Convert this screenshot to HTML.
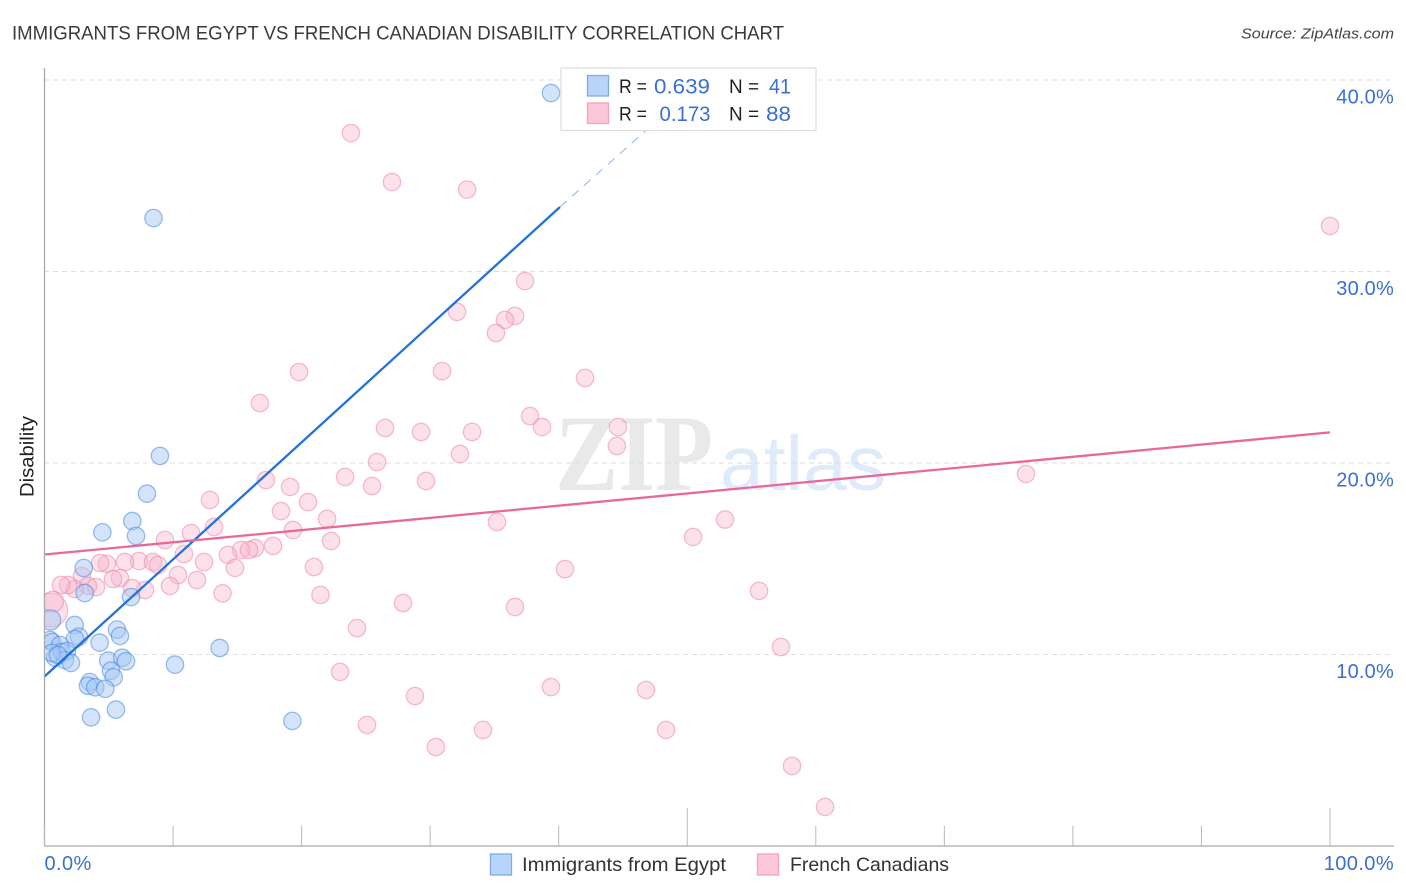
<!DOCTYPE html>
<html lang="en">
<head>
<meta charset="utf-8">
<title>Immigrants from Egypt vs French Canadian Disability Correlation Chart</title>
<style>
html,body{margin:0;padding:0;background:#fff;}
svg{display:block;font-family:"Liberation Sans",sans-serif;}
</style>
</head>
<body>
<svg id="chart" xmlns="http://www.w3.org/2000/svg" width="1406" height="892" viewBox="0 0 1406 892">
  <defs>
    <clipPath id="plot-clip"><rect x="45" y="60" width="1349" height="786"></rect></clipPath>
  </defs>
  <rect x="0" y="0" width="1406" height="892" fill="#ffffff"></rect>
  <text x="12" y="39.5" font-size="19.5" fill="#3a3a3a" textLength="772" lengthAdjust="spacingAndGlyphs">IMMIGRANTS FROM EGYPT VS FRENCH CANADIAN DISABILITY CORRELATION CHART</text>
  <text x="1241" y="38.5" font-size="15" font-style="italic" fill="#444444" textLength="153" lengthAdjust="spacingAndGlyphs">Source: ZipAtlas.com</text>
  <text x="555" y="490" font-family="'Liberation Serif',serif" font-weight="700" font-size="109" fill="#e9e9e9" textLength="158" lengthAdjust="spacingAndGlyphs">ZIP</text>
  <text x="720" y="490" font-size="77" fill="#dfeafa" textLength="166" lengthAdjust="spacingAndGlyphs">atlas</text>
  <g id="grid"></g>
  <g id="points" clip-path="url(#plot-clip)"></g>
  <g id="trends"></g>
  <g id="axes"></g>
  <text transform="translate(33.5,456.5) rotate(-90)" text-anchor="middle" font-size="19.5" fill="#222222" textLength="81" lengthAdjust="spacingAndGlyphs">Disability</text>

  <g>
    <rect x="561" y="68" width="255" height="62.5" fill="#ffffff" fill-opacity="0.9" stroke="#dddddd" stroke-width="1.2"></rect>
    <rect x="587.5" y="75.5" width="21" height="20.5" fill="#b8d4f8" stroke="#7fabe6" stroke-width="1.3"></rect>
    <rect x="587.5" y="103" width="21" height="20.5" fill="#fcc8d9" stroke="#f2a3bd" stroke-width="1.3"></rect>
    <text x="619" y="93" font-size="19.5" fill="#222222" textLength="28" lengthAdjust="spacingAndGlyphs">R =</text>
    <text x="654" y="93.5" font-size="21" fill="#3b70d0" textLength="56" lengthAdjust="spacingAndGlyphs">0.639</text>
    <text x="729" y="93" font-size="19.5" fill="#222222" textLength="30" lengthAdjust="spacingAndGlyphs">N =</text>
    <text x="769" y="93.5" font-size="21" fill="#3b70d0" textLength="22" lengthAdjust="spacingAndGlyphs">41</text>
    <text x="619" y="120.5" font-size="19.5" fill="#222222" textLength="28" lengthAdjust="spacingAndGlyphs">R =</text>
    <text x="659.5" y="121" font-size="21" fill="#3b70d0" textLength="51" lengthAdjust="spacingAndGlyphs">0.173</text>
    <text x="729" y="120.5" font-size="19.5" fill="#222222" textLength="30" lengthAdjust="spacingAndGlyphs">N =</text>
    <text x="766" y="121" font-size="21" fill="#3b70d0" textLength="25" lengthAdjust="spacingAndGlyphs">88</text>
  </g>

  <g>
    <g>
      <rect x="490.5" y="854" width="21" height="21" fill="#b8d4f8" stroke="#7fabe6" stroke-width="1.3"></rect>
      <text x="522" y="871" font-size="19.5" fill="#333333" textLength="204" lengthAdjust="spacingAndGlyphs">Immigrants from Egypt</text>
    </g>
    <g>
      <rect x="757.5" y="854" width="21" height="21" fill="#fcc8d9" stroke="#f2a3bd" stroke-width="1.3"></rect>
      <text x="790" y="871" font-size="19.5" fill="#333333" textLength="159" lengthAdjust="spacingAndGlyphs">French Canadians</text>
    </g>
  </g>
</svg>
<script>
// Axis tick data
const yTickValues = [10, 20, 30, 40];
const yTickLabels = ["10.0%", "20.0%", "30.0%", "40.0%"];
const xTickValues = [0, 10, 20, 30, 40, 50, 60, 70, 80, 90, 100];
const xMajorTicks = [50, 100];
const xEndValues = [0, 100];
const xEndLabels = ["0.0%", "100.0%"];

// Immigrants from Egypt (percent values)
const egyptX = [39.40, 8.48, 8.98, 7.97, 6.83, 4.50, 7.12, 3.05, 3.13, 6.73, 2.35, 5.64, 5.87, 2.68, 2.37, 4.29, 13.63, 0.43, 0.58, 1.21, 0.82, 1.36, 1.75, 1.59, 2.06, 0.58, 4.96, 6.05, 6.34, 10.15, 5.17, 5.38, 3.52, 3.38, 3.95, 4.73, 3.62, 5.56, 19.28, 1.05];
const egyptY = [39.32, 32.79, 20.37, 18.40, 16.97, 16.38, 16.19, 14.52, 13.21, 13.00, 11.54, 11.30, 10.97, 10.93, 10.81, 10.62, 10.34, 10.76, 10.65, 10.50, 9.84, 10.13, 10.18, 9.71, 9.56, 10.08, 9.68, 9.83, 9.65, 9.47, 9.15, 8.81, 8.56, 8.37, 8.29, 8.21, 6.72, 7.12, 6.53, 9.97];

// French Canadians (percent values)
const frenchX = [23.84, 27.03, 32.87, 100, 37.38, 32.09, 36.60, 35.82, 35.12, 42.05, 30.92, 19.80, 16.76, 37.77, 38.70, 26.49, 29.29, 33.26, 44.61, 44.53, 32.32, 25.87, 23.38, 29.68, 25.48, 17.23, 19.10, 12.87, 20.50, 18.40, 76.35, 21.98, 35.20, 52.94, 13.19, 19.33, 11.40, 9.37, 22.29, 50.45, 17.78, 16.37, 15.29, 15.91, 14.27, 10.85, 12.41, 14.82, 20.96, 40.49, 7.35, 6.26, 4.86, 4.32, 8.44, 8.83, 5.87, 5.33, 10.39, 11.86, 9.76, 7.82, 6.81, 2.92, 4.01, 3.38, 2.37, 1.83, 1.28, 13.85, 21.47, 55.58, 27.89, 36.60, 24.31, 57.29, 22.99, 39.40, 46.79, 28.82, 25.09, 48.35, 34.11, 30.45, 58.15, 60.72];
const frenchY = [37.23, 34.67, 34.28, 32.38, 29.50, 27.89, 27.68, 27.47, 26.79, 24.44, 24.80, 24.75, 23.13, 22.45, 21.88, 21.83, 21.62, 21.62, 21.88, 20.89, 20.47, 20.05, 19.27, 19.06, 18.80, 19.11, 18.75, 18.07, 17.96, 17.49, 19.43, 17.08, 16.92, 17.05, 16.66, 16.50, 16.34, 15.98, 15.93, 16.14, 15.67, 15.56, 15.46, 15.46, 15.20, 15.25, 14.83, 14.52, 14.57, 14.46, 14.88, 14.83, 14.73, 14.78, 14.83, 14.67, 13.99, 13.94, 14.15, 13.89, 13.58, 13.37, 13.47, 14.10, 13.52, 13.58, 13.42, 13.63, 13.63, 13.19, 13.11, 13.32, 12.69, 12.48, 11.38, 10.39, 9.09, 8.30, 8.15, 7.83, 6.32, 6.06, 6.06, 5.17, 4.18, 2.04];

// Heavier-weighted observations near the left edge
const frenchHeavyX = [0.48, 0.66];
const frenchHeavyY = [12.32, 12.76];
const frenchHeavyWeight = [1.95, 1.2];
const egyptHeavyX = [0.48];
const egyptHeavyY = [11.80];
const egyptHeavyWeight = [1.15];

// Trend lines: endpoints in data units
const egyptTrendX = [0, 40.1];
const egyptTrendY = [8.85, 33.37];
const egyptDashX = [40.1, 49.7];
const egyptDashY = [33.37, 39.1];
const frenchTrendX = [0, 100];
const frenchTrendY = [15.22, 21.6];

const X0 = 44.5, X_PER = 12.855, Y0 = 846, Y_PER = 19.15, BASE_R = 8.7;
function xScale(v) { return X0 + v * X_PER; }
function yScale(v) { return Y0 - v * Y_PER; }

const NS = "http://www.w3.org/2000/svg";
function make(tag, attrs, parent, text) {
  const el = document.createElementNS(NS, tag);
  for (const k in attrs) el.setAttribute(k, attrs[k]);
  if (text !== undefined) el.textContent = text;
  parent.appendChild(el);
  return el;
}

const gridG = document.getElementById("grid");
const axesG = document.getElementById("axes");
const pointsG = document.getElementById("points");
const trendsG = document.getElementById("trends");

yTickValues.forEach(function (v, i) {
  const line = make("line", { x1: 44, x2: 1394, y1: yScale(v), y2: yScale(v), stroke: "#dedede", "stroke-width": 1, "stroke-dasharray": "5 4" }, gridG);
  
  
  const label = make("text", { x: 1394, y: yScale(v) + 23.5, "text-anchor": "end", "font-size": 20, "letter-spacing": 0.2, fill: "#3b70d0" }, axesG, yTickLabels[i]);
  
  
});

const yAxis = make("line", { x1: 44.5, x2: 44.5, y1: 68, y2: 846, stroke: "#aaaaaa", "stroke-width": 1.3 }, axesG);


const xAxis = make("line", { x1: 44, x2: 1394, y1: 846, y2: 846, stroke: "#aaaaaa", "stroke-width": 1.3 }, axesG);



xTickValues.forEach(function (v) {
  const top = xMajorTicks.indexOf(v) >= 0 ? 808 : 826;
  const tick = make("line", { x1: xScale(v), x2: xScale(v), y1: top, y2: 846, stroke: "#b8b8b8", "stroke-width": 1 }, axesG);
  
  
});

xEndValues.forEach(function (v, i) {
  const anchor = v === 0 ? "start" : "end";
  const x = v === 0 ? xScale(v) : 1394;
  const label = make("text", { x: x, y: 870, "text-anchor": anchor, "font-size": 20, "letter-spacing": 0.4, fill: "#3b70d0" }, axesG, xEndLabels[i]);
  
  
});

const frenchStyle = { fill: "#f9b4cc", "fill-opacity": 0.42, stroke: "#ec7fa5", "stroke-opacity": 0.5, "stroke-width": 1.3 };
const egyptStyle = { fill: "#a3c6f5", "fill-opacity": 0.48, stroke: "#3f7fdc", "stroke-opacity": 0.5, "stroke-width": 1.3 };

function dot(x, y, weight, style, parent) {
  const attrs = { cx: xScale(x), cy: yScale(y), r: BASE_R * weight };
  for (const k in style) attrs[k] = style[k];
  return make("circle", attrs, parent);
}

frenchHeavyX.forEach(function (x, i) {
  const c = dot(x, frenchHeavyY[i], frenchHeavyWeight[i], frenchStyle, pointsG);
  
  
});
frenchX.forEach(function (x, i) {
  const c = dot(x, frenchY[i], 1, frenchStyle, pointsG);
  
  
});
egyptHeavyX.forEach(function (x, i) {
  const c = dot(x, egyptHeavyY[i], egyptHeavyWeight[i], egyptStyle, pointsG);
  
  
});
egyptX.forEach(function (x, i) {
  const c = dot(x, egyptY[i], 1, egyptStyle, pointsG);
  
  
});

const dashLine = make("line", { x1: xScale(egyptDashX[0]), y1: yScale(egyptDashY[0]), x2: xScale(egyptDashX[1]), y2: yScale(egyptDashY[1]), stroke: "#2a74d8", "stroke-width": 0.9, "stroke-opacity": 0.6, "stroke-dasharray": "9 7" }, trendsG);


const egyptLine = make("line", { x1: xScale(egyptTrendX[0]), y1: yScale(egyptTrendY[0]), x2: xScale(egyptTrendX[1]), y2: yScale(egyptTrendY[1]), stroke: "#2272d9", "stroke-width": 2.3 }, trendsG);


const frenchLine = make("line", { x1: xScale(frenchTrendX[0]), y1: yScale(frenchTrendY[0]), x2: xScale(frenchTrendX[1]), y2: yScale(frenchTrendY[1]), stroke: "#e9689b", "stroke-width": 2.3 }, trendsG);


</script>
</body>
</html>
